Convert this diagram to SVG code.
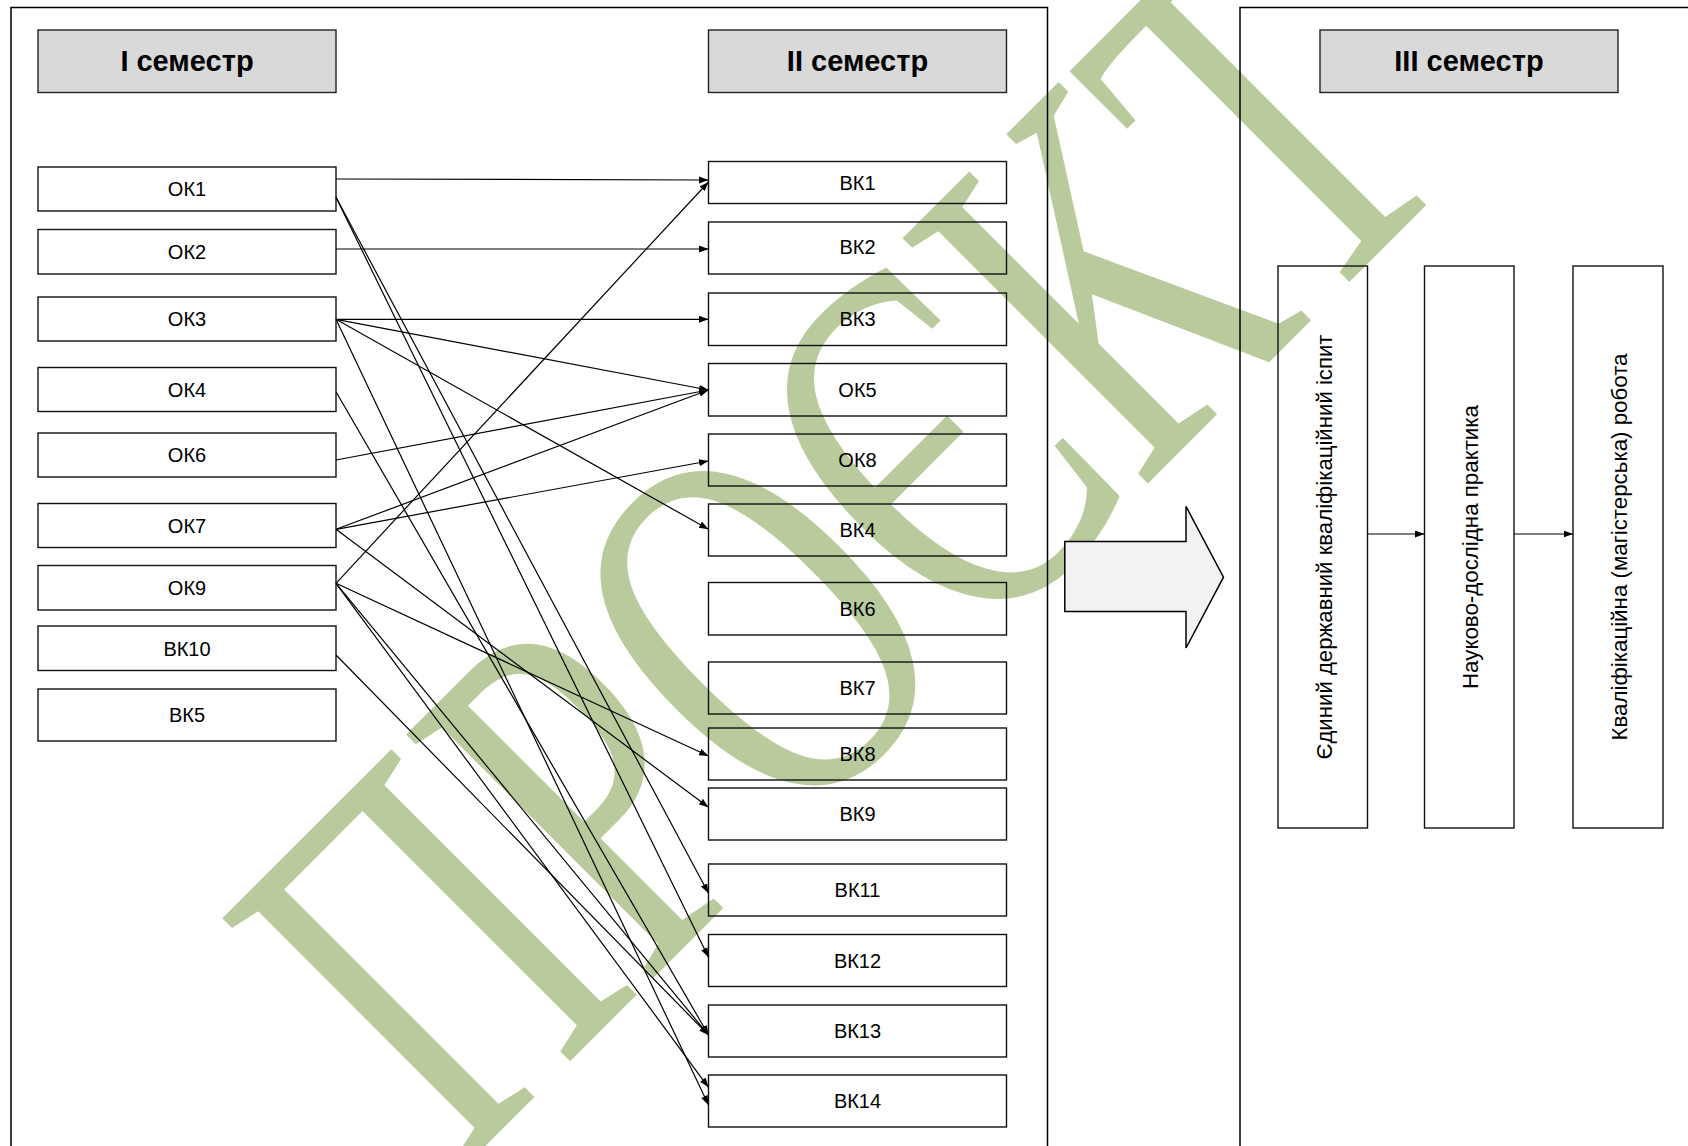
<svg xmlns="http://www.w3.org/2000/svg" width="1688" height="1146" viewBox="0 0 1688 1146">
<style>
  .frame { fill: none; stroke: #000; stroke-width: 1.5; }
  .hdr rect { fill: #d9d9d9; stroke: #222; stroke-width: 1.4; }
  .hdr text { font-family: "Liberation Sans", Arial, sans-serif; font-weight: bold; font-size: 29px; text-anchor: middle; fill: #000; }
  .box rect { fill: none; stroke: #111; stroke-width: 1.4; }
  .box text { font-family: "Liberation Sans", Arial, sans-serif; font-size: 20px; text-anchor: middle; fill: #000; }
  .vbox rect { fill: none; stroke: #111; stroke-width: 1.4; }
  .vbox text { font-family: "Liberation Sans", Arial, sans-serif; font-size: 22px; text-anchor: middle; fill: #000; }
  .conn path { fill: none; stroke: #000; stroke-width: 1.2; marker-end: url(#ah); }
  .wm { font-family: "Liberation Serif", "Times New Roman", serif; font-size: 530px; fill: #b9cb9c; }
</style>
<defs>
  <marker id="ah" markerUnits="userSpaceOnUse" markerWidth="10" markerHeight="8" refX="9.5" refY="3.5" orient="auto">
    <path d="M0,0 L9.5,3.5 L0,7 z" fill="#000"/>
  </marker>
</defs>
<rect x="0" y="0" width="1688" height="1146" fill="#fff"/>

<!-- watermark -->
<text class="wm" transform="translate(460.4,1171) rotate(-45) scale(0.679,1)">ПРОЄКТ</text>

<!-- frames -->
<path class="frame" d="M11,1146 L11,7.5 L1047.5,7.5 L1047.5,1146"/>
<path class="frame" d="M1240,1146 L1240,7.5 L1688,7.5"/>

<!-- headers -->
<g id="sem1" class="hdr"><rect x="38" y="30" width="298" height="62.5"/><text x="187" y="71">I семестр</text></g>
<g id="sem2" class="hdr"><rect x="708.5" y="30" width="298" height="62.5"/><text x="857.5" y="71">II семестр</text></g>
<g id="sem3" class="hdr"><rect x="1320" y="30" width="298" height="62.5"/><text x="1469" y="71">III семестр</text></g>

<!-- left column -->
<g id="ok1" class="box"><rect x="38" y="167" width="298" height="44"/><text x="187" y="196">ОК1</text></g>
<g id="ok2" class="box"><rect x="38" y="229.5" width="298" height="44.5"/><text x="187" y="259">ОК2</text></g>
<g id="ok3" class="box"><rect x="38" y="297" width="298" height="44"/><text x="187" y="326">ОК3</text></g>
<g id="ok4" class="box"><rect x="38" y="367.5" width="298" height="44"/><text x="187" y="396.5">ОК4</text></g>
<g id="ok6" class="box"><rect x="38" y="433" width="298" height="44"/><text x="187" y="462">ОК6</text></g>
<g id="ok7" class="box"><rect x="38" y="503.5" width="298" height="44"/><text x="187" y="532.5">ОК7</text></g>
<g id="ok9" class="box"><rect x="38" y="565.5" width="298" height="44.5"/><text x="187" y="595">ОК9</text></g>
<g id="vk10" class="box"><rect x="38" y="626" width="298" height="44.5"/><text x="187" y="655.5">ВК10</text></g>
<g id="vk5" class="box"><rect x="38" y="689" width="298" height="52"/><text x="187" y="722">ВК5</text></g>

<!-- middle column -->
<g id="vk1" class="box"><rect x="708.5" y="161.5" width="298" height="42"/><text x="857.5" y="189.5">ВК1</text></g>
<g id="vk2" class="box"><rect x="708.5" y="222" width="298" height="52"/><text x="857.5" y="254">ВК2</text></g>
<g id="vk3" class="box"><rect x="708.5" y="293" width="298" height="52.5"/><text x="857.5" y="326">ВК3</text></g>
<g id="ok5" class="box"><rect x="708.5" y="363.5" width="298" height="52.5"/><text x="857.5" y="396.5">ОК5</text></g>
<g id="ok8" class="box"><rect x="708.5" y="434" width="298" height="52"/><text x="857.5" y="467">ОК8</text></g>
<g id="vk4" class="box"><rect x="708.5" y="504" width="298" height="52"/><text x="857.5" y="537">ВК4</text></g>
<g id="vk6" class="box"><rect x="708.5" y="582.5" width="298" height="52.5"/><text x="857.5" y="615.5">ВК6</text></g>
<g id="vk7" class="box"><rect x="708.5" y="662" width="298" height="52"/><text x="857.5" y="695">ВК7</text></g>
<g id="vk8" class="box"><rect x="708.5" y="728" width="298" height="52"/><text x="857.5" y="761">ВК8</text></g>
<g id="vk9" class="box"><rect x="708.5" y="788" width="298" height="52"/><text x="857.5" y="821">ВК9</text></g>
<g id="vk11" class="box"><rect x="708.5" y="864" width="298" height="52"/><text x="857.5" y="897">ВК11</text></g>
<g id="vk12" class="box"><rect x="708.5" y="934.5" width="298" height="52"/><text x="857.5" y="967.5">ВК12</text></g>
<g id="vk13" class="box"><rect x="708.5" y="1005" width="298" height="52"/><text x="857.5" y="1038">ВК13</text></g>
<g id="vk14" class="box"><rect x="708.5" y="1075" width="298" height="52"/><text x="857.5" y="1108">ВК14</text></g>

<!-- block arrow -->
<g id="bigarrow"><path d="M1064.8,541.6 L1186,541.6 L1186,506.4 L1223.5,577.2 L1186,648 L1186,611.6 L1064.8,611.6 Z" fill="#f2f2f2" stroke="#000" stroke-width="1.5"/></g>

<!-- third semester -->
<g id="exam" class="vbox"><rect x="1278" y="266" width="89.5" height="562"/><text transform="translate(1331.5,547) rotate(-90)" textLength="425" lengthAdjust="spacingAndGlyphs">Єдиний державний кваліфікаційний іспит</text></g>
<g id="practice" class="vbox"><rect x="1424.5" y="266" width="89.5" height="562"/><text transform="translate(1477.5,547) rotate(-90)" textLength="284" lengthAdjust="spacingAndGlyphs">Науково-дослідна практика</text></g>
<g id="thesis" class="vbox"><rect x="1573" y="266" width="90" height="562"/><text transform="translate(1627,547) rotate(-90)" textLength="387" lengthAdjust="spacingAndGlyphs">Кваліфікаційна (магістерська) робота</text></g>

<!-- connectors -->
<g id="connectors" class="conn">
  <path d="M336,179 L708.5,180"/>
  <path d="M336,197.3 L708.5,893.3"/>
  <path d="M336,197.3 L708.5,957.3"/>
  <path d="M336,249 L708.5,249"/>
  <path d="M336,319.3 L708.5,319.3"/>
  <path d="M336,319.3 L708.5,390"/>
  <path d="M336,319.3 L708.5,529.3"/>
  <path d="M336,319.3 L708.5,1105"/>
  <path d="M336,391.7 L708.5,1035"/>
  <path d="M336,460 L708.5,390"/>
  <path d="M336,529.3 L708.5,390"/>
  <path d="M336,529.3 L708.5,461"/>
  <path d="M336,529.3 L708.5,807.3"/>
  <path d="M336,583.3 L708.5,182"/>
  <path d="M336,583.3 L708.5,756"/>
  <path d="M336,583.3 L708.5,1035"/>
  <path d="M336,583.3 L708.5,1087.3"/>
  <path d="M336,655 L708.5,1035"/>
  <path d="M1367.5,534 L1424.5,534"/>
  <path d="M1514,534 L1573,534"/>
</g>
</svg>
